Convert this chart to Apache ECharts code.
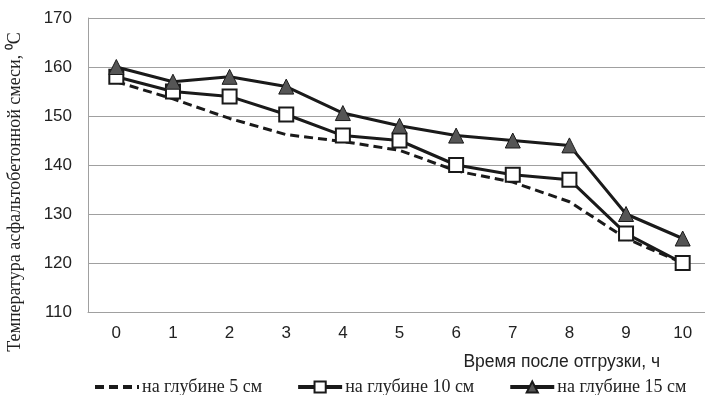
<!DOCTYPE html>
<html><head><meta charset="utf-8">
<script src="https://cdn.jsdelivr.net/npm/echarts@6/dist/echarts.min.js"></script>
<style>html,body{margin:0;padding:0;background:#fff}#c{width:705px;height:395px}</style>
</head><body><div id="c"></div>
<script>
var categories = ['0','1','2','3','4','5','6','7','8','9','10'];
var depth5 = [157, 153.5, 149.5, 146.2, 144.8, 143, 138.8, 136.5, 132.5, 125, 120];
var depth10 = [158, 155, 154, 150.3, 146, 145, 140, 138, 137, 126, 120];
var depth15 = [160, 157, 158, 156, 150.6, 148, 146, 145, 144, 130, 125];
var seriesNames = ['на глубине 5 см', 'на глубине 10 см', 'на глубине 15 см'];
var yTitle = 'Температура асфальтобетонной смеси, ⁰C';
var xTitle = 'Время после отгрузки, ч';

var chart = echarts.init(document.getElementById('c'));
var sans = 'Liberation Sans';
var serif = 'Liberation Serif';
var clear = 'rgba(0,0,0,0)';
chart.setOption({
  animation: false,
  grid: {left: 88, width: 623, top: 18, height: 294, containLabel: false, outerBoundsMode: 'none'},
  xAxis: {
    type: 'category', data: categories, boundaryGap: true,
    axisLine: {lineStyle: {color: '#a0a0a0', width: 1}},
    axisTick: {show: false},
    axisLabel: {color: '#222', fontFamily: sans, fontSize: 17, margin: 13},
    splitLine: {show: false}
  },
  yAxis: {
    type: 'value', min: 110, max: 170, interval: 10,
    axisLine: {show: true, lineStyle: {color: '#a0a0a0', width: 1}},
    axisTick: {show: false},
    axisLabel: {color: '#222', fontFamily: sans, fontSize: 17, margin: 16},
    splitLine: {lineStyle: {color: '#a0a0a0', width: 1}}
  },
  legend: {
    bottom: -6, left: 88, itemWidth: 44, itemHeight: 14, itemGap: 34,
    lineStyle: {width: 4},
    textStyle: {fontFamily: serif, fontSize: 18, color: '#222', padding: [0,0,0,-2]},
    data: [
      {name: seriesNames[0], itemStyle: {color: clear, borderColor: clear, borderWidth: 0}},
      seriesNames[1], seriesNames[2]
    ]
  },
  graphic: [
    {type: 'text', x: 15, y: 192, rotation: Math.PI/2,
     style: {text: yTitle, fontFamily: serif, fontSize: 18, fill: '#222', align: 'center', verticalAlign: 'middle'}},
    {type: 'text', x: 660, y: 362,
     style: {text: xTitle, fontFamily: sans, fontSize: 17.5, fill: '#222', align: 'right', verticalAlign: 'middle'}}
  ],
  series: [
    {name: seriesNames[0], type: 'line', data: depth5, symbol: 'none',
     lineStyle: {color: '#1a1a1a', width: 3, type: [9, 5]}, itemStyle: {color: '#1a1a1a'}, z: 2},
    {name: seriesNames[1], type: 'line', data: depth10, symbol: 'rect', symbolSize: 14,
     lineStyle: {color: '#1a1a1a', width: 3}, itemStyle: {color: '#fff', borderColor: '#1a1a1a', borderWidth: 2}, z: 3},
    {name: seriesNames[2], type: 'line', data: depth15, symbol: 'triangle', symbolSize: 15,
     lineStyle: {color: '#1a1a1a', width: 3}, itemStyle: {color: '#555', borderColor: '#1a1a1a', borderWidth: 1}, z: 4}
  ]
});
</script></body></html>
